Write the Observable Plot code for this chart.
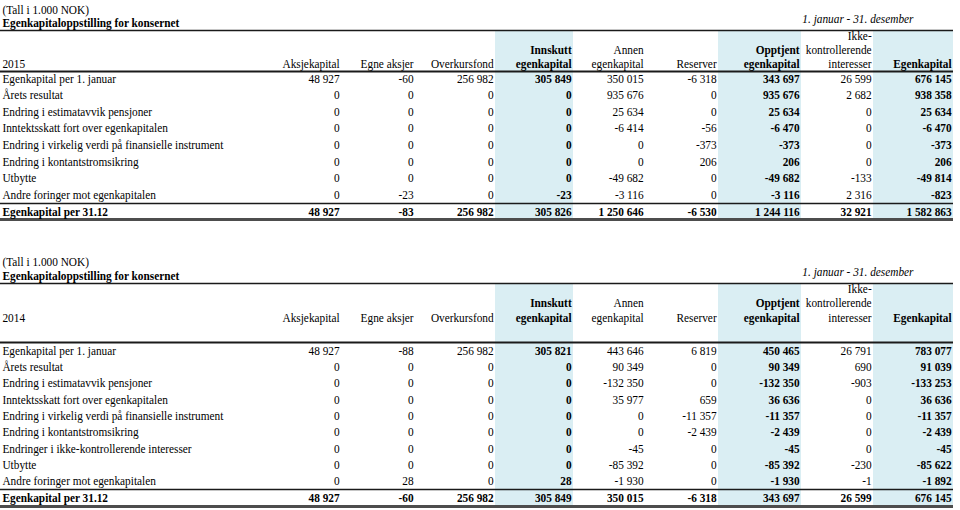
<!DOCTYPE html>
<html>
<head>
<meta charset="utf-8">
<script src="https://cdn.jsdelivr.net/npm/d3@7"></script>
<script src="https://cdn.jsdelivr.net/npm/@observablehq/plot@0.6"></script>
<style>
  html, body { margin: 0; padding: 0; background: #fff; overflow: hidden; }
  #chart { width: 960px; overflow: hidden; }
  #chart .wrap { width: 960px; overflow: hidden; }
  #chart svg { display: block; max-width: none !important; transform-origin: 0 0; }
</style>
</head>
<body>
<div id="chart"></div>
<script>
// ---------- Column headers ----------
const columnHeaders = ["Aksjekapital", "Egne aksjer", "Overkursfond", "Innskutt\negenkapital", "Annen\negenkapital", "Reserver", "Opptjent\negenkapital", "Ikke-\nkontrollerende\ninteresser", "Egenkapital"];
const boldColumns = [4, 7, 9];

// ---------- 2015 ----------
const labels2015 = ["Egenkapital per 1. januar", "Årets resultat", "Endring i estimatavvik pensjoner", "Inntektsskatt fort over egenkapitalen", "Endring i virkelig verdi på finansielle instrument", "Endring i kontantstromsikring", "Utbytte", "Andre foringer mot egenkapitalen", "Egenkapital per 31.12"];
const aksjekapital2015 = [48927, 0, 0, 0, 0, 0, 0, 0, 48927];
const egneAksjer2015   = [-60, 0, 0, 0, 0, 0, 0, -23, -83];
const overkursfond2015 = [256982, 0, 0, 0, 0, 0, 0, 0, 256982];
const innskutt2015     = [305849, 0, 0, 0, 0, 0, 0, -23, 305826];
const annen2015        = [350015, 935676, 25634, -6414, 0, 0, -49682, -3116, 1250646];
const reserver2015     = [-6318, 0, 0, -56, -373, 206, 0, 0, -6530];
const opptjent2015     = [343697, 935676, 25634, -6470, -373, 206, -49682, -3116, 1244116];
const ikke2015         = [26599, 2682, 0, 0, 0, 0, -133, 2316, 32921];
const egenkapital2015  = [676145, 938358, 25634, -6470, -373, 206, -49814, -823, 1582863];

// ---------- 2014 ----------
const labels2014 = ["Egenkapital per 1. januar", "Årets resultat", "Endring i estimatavvik pensjoner", "Inntektsskatt fort over egenkapitalen", "Endring i virkelig verdi på finansielle instrument", "Endring i kontantstromsikring", "Endringer i ikke-kontrollerende interesser", "Utbytte", "Andre foringer mot egenkapitalen", "Egenkapital per 31.12"];
const aksjekapital2014 = [48927, 0, 0, 0, 0, 0, 0, 0, 0, 48927];
const egneAksjer2014   = [-88, 0, 0, 0, 0, 0, 0, 0, 28, -60];
const overkursfond2014 = [256982, 0, 0, 0, 0, 0, 0, 0, 0, 256982];
const innskutt2014     = [305821, 0, 0, 0, 0, 0, 0, 0, 28, 305849];
const annen2014        = [443646, 90349, -132350, 35977, 0, 0, -45, -85392, -1930, 350015];
const reserver2014     = [6819, 0, 0, 659, -11357, -2439, 0, 0, 0, -6318];
const opptjent2014     = [450465, 90349, -132350, 36636, -11357, -2439, -45, -85392, -1930, 343697];
const ikke2014         = [26791, 690, -903, 0, 0, 0, 0, -230, -1, 26599];
const egenkapital2014  = [783077, 91039, -133253, 36636, -11357, -2439, -45, -85622, -1892, 676145];

// ---------- Texts ----------
const unitText = "(Tall i 1.000 NOK)";
const titleText = "Egenkapitaloppstilling for konsernet";
const periodText = "1. januar - 31. desember";

// ---------- Layout (scale config) ----------
// the reference glyphs are horizontally condensed: draw wider, then squeeze with CSS
const SQUEEZE = 0.905;
const colRange = [2, 341, 415, 495, 573, 645, 718, 801, 873, 953].map(v => v / SQUEEZE);
const FONT = 12.5;
const locale = d3.formatLocale({decimal: ",", thousands: " ", grouping: [3], currency: ["", ""], minus: "-"});
const fmt = locale.format(",d");

function makeTable(spec) {
  const {year, labels, cols, height, yRange, L} = spec;
  const totalIdx = labels.length - 1;
  const rows = labels.map((label, i) => ({i, label, total: i === totalIdx}));
  const cells = [];
  cols.forEach((arr, c) => arr.forEach((v, i) => cells.push({i, j: c + 1, v, bold: i === totalIdx || boldColumns.includes(c + 1)})));
  const headers = columnHeaders.map((h, c) => ({j: c + 1, h, bold: boldColumns.includes(c + 1)}));
  const txt = {fontSize: FONT, fill: "#000"};
  const svg = Plot.plot({
    width: Math.round(960 / SQUEEZE),
    height,
    margin: 0,
    x: {type: "linear", domain: d3.range(10), range: colRange, axis: null},
    y: {type: "linear", domain: [0, totalIdx], range: yRange, axis: null},
    style: {fontFamily: "'Liberation Serif', 'Times New Roman', serif", background: "#fff", color: "#000"},
    marks: [
      Plot.rect(boldColumns, {x1: d => d - 1, x2: d => d, y1: L.shadeTop, y2: L.shadeBottom, fill: "#DAEEF3"}),
      Plot.ruleY([L.topRule], {x1: -0.006, x2: 9, stroke: "#1a1a1a", strokeWidth: 1.6}),
      Plot.ruleY([L.headRule], {x1: -0.006, x2: 9, stroke: "#1a1a1a", strokeWidth: 2}),
      Plot.ruleY([L.totalRule], {x1: -0.006, x2: 9, stroke: "#1a1a1a", strokeWidth: 1.4}),
      Plot.ruleY([L.bottomRule], {x1: -0.006, x2: 9, stroke: "#4d4d4d", strokeWidth: 3}),
      Plot.text([unitText], {x: 0, y: L.unit, text: d => d, textAnchor: "start", ...txt}),
      Plot.text([titleText], {x: 0, y: L.title, text: d => d, textAnchor: "start", fontWeight: "bold", ...txt}),
      Plot.text([periodText], {x: 8.5, y: L.period, text: d => d, textAnchor: "end", fontStyle: "italic", ...txt}),
      Plot.text([String(year)], {x: 0, y: L.headLast, text: d => d, textAnchor: "start", ...txt}),
      Plot.text(headers.filter(d => !d.bold), {x: "j", y: L.headLast, text: "h", textAnchor: "end", lineAnchor: "bottom", dy: 4, dx: -2, lineHeight: L.lh, ...txt}),
      Plot.text(headers.filter(d => d.bold), {x: "j", y: L.headLast, text: "h", textAnchor: "end", lineAnchor: "bottom", dy: 4, dx: -2, lineHeight: L.lh, fontWeight: "bold", ...txt}),
      Plot.text(rows.filter(d => !d.total), {x: 0, y: "i", text: "label", textAnchor: "start", ...txt}),
      Plot.text(rows.filter(d => d.total), {x: 0, y: "i", text: "label", textAnchor: "start", fontWeight: "bold", ...txt}),
      Plot.text(cells.filter(d => !d.bold), {x: "j", y: "i", text: d => fmt(d.v), textAnchor: "end", dx: -2, ...txt}),
      Plot.text(cells.filter(d => d.bold), {x: "j", y: "i", text: d => fmt(d.v), textAnchor: "end", dx: -2, fontWeight: "bold", ...txt})
    ]
  });
  svg.style.transform = `scaleX(${SQUEEZE})`;
  svg.style.maxWidth = "none";
  const wrap = document.createElement("div");
  wrap.className = "wrap";
  wrap.style.height = height + "px";
  wrap.appendChild(svg);
  return wrap;
}

const chart = document.getElementById("chart");
chart.appendChild(makeTable({
  year: 2015,
  labels: labels2015,
  cols: [aksjekapital2015, egneAksjer2015, overkursfond2015, innskutt2015, annen2015, reserver2015, opptjent2015, ikke2015, egenkapital2015],
  height: 253,
  yRange: [78, 211],
  L: {unit: -4.15, title: -3.31, period: -3.58, topRule: -2.89, headLast: -0.9, headRule: -0.42, totalRule: 7.52, bottomRule: 8.48, shadeTop: -2.89, shadeBottom: 8.48, lh: 1.12}
}));
chart.appendChild(makeTable({
  year: 2014,
  labels: labels2014,
  cols: [aksjekapital2014, egneAksjer2014, overkursfond2014, innskutt2014, annen2014, reserver2014, opptjent2014, ikke2014, egenkapital2014],
  height: 257,
  yRange: [97, 244],
  L: {unit: -5.39, title: -4.59, period: -4.78, topRule: -4.1, headLast: -2.02, headRule: -0.49, totalRule: 8.51, bottomRule: 9.55, shadeTop: -4.1, shadeBottom: 9.55, lh: 1.16}
}));
</script>
</body>
</html>
